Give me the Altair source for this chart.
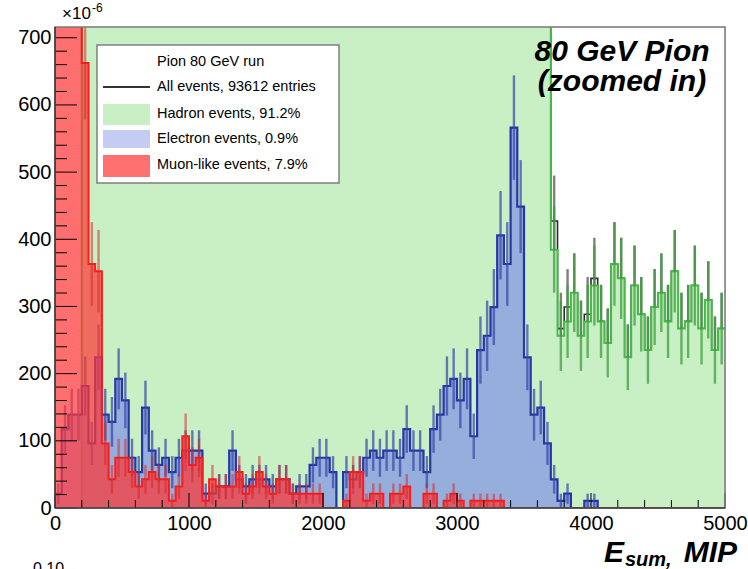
import altair as alt
import numpy as np
import pandas as pd

# ---------------------------------------------------------------------------
# Energy-sum histograms (counts per 50-MIP bin, 0 .. 5000 MIP), normalised
# to the total number of entries of the run.
# ---------------------------------------------------------------------------
N_ENTRIES = 93612
BIN_WIDTH = 50
bin_edges = list(range(0, 5001, BIN_WIDTH))

hadron_counts = [
    0, 0, 0, 0,
    120, 250, 380, 480, 560, 620,
    800, 850, 890, 930, 970, 1000, 1030, 1060, 1090, 1120,
    1140, 1170, 1200, 1220, 1250, 1270, 1300, 1320, 1350, 1370,
    1400, 1420, 1450, 1470, 1500, 1520, 1540, 1570, 1590, 1610,
    1630, 1650, 1670, 1680, 1700, 1710, 1720, 1730, 1730, 1720,
    1710, 1690, 1670, 1640, 1610, 1570, 1530, 1480, 1430, 1370,
    1310, 1240, 1170, 1100, 1020, 940, 860, 780, 700, 620,
    540, 460, 380, 300,
    36, 24, 26, 30, 24, 26, 31, 26, 23, 34,
    32, 21, 31, 27, 22, 28, 30, 26, 33, 25,
    26, 31, 25, 29, 22, 25,
]

electron_counts = [
    2, 11, 13, 13, 17, 9, 21, 13, 12, 18,
    15, 7, 5, 14, 8, 6, 7, 5, 7, 8,
    8, 8, 2, 2, 3, 3, 8, 4, 3, 4,
    4, 4, 3, 4, 4, 2, 3, 3, 6, 7,
    7, 5, 0, 5, 4, 5, 7, 8, 7, 8,
    8, 7, 11, 8, 8, 5, 11, 13, 17, 18,
    15, 18, 10, 22, 24, 28, 38, 34, 53, 42,
    21, 13, 14, 9, 4, 1, 2, 0, 0, 1,
    1, 0, 0, 0, 0, 0, 0, 0, 0, 0,
    0, 0, 0, 0, 0, 0, 0, 0, 0, 0,
]

muon_counts = [
    1450, 3300, 1800, 550, 62, 34, 33, 9, 4, 7,
    7, 5, 3, 4, 5, 4, 4, 1, 3, 10,
    6, 7, 1, 4, 3, 3, 3, 5, 2, 3,
    5, 3, 2, 4, 4, 2, 2, 2, 2, 2,
    0, 0, 0, 1, 5, 5, 1, 2, 2, 0,
    2, 2, 3, 0, 0, 2, 2, 0, 1, 2,
    1, 0, 1, 1, 1, 1, 1, 0, 0, 0,
    0, 0, 0, 0, 0, 0, 0, 0, 0, 0,
    0, 0, 0, 0, 0, 0, 0, 0, 0, 0,
    0, 0, 0, 0, 0, 0, 0, 0, 0, 0,
]

all_counts = [h + e + m for h, e, m in zip(hadron_counts, electron_counts, muon_counts)]

x_major = [0, 1000, 2000, 3000, 4000, 5000]
x_minor = [v for v in range(0, 5001, 200) if v % 1000]
y_major = [0, 100, 200, 300, 400, 500, 600, 700]
y_minor = [v for v in range(0, 716, 20) if v % 100]

legend_header = "Pion 80 GeV run"
legend_labels = [
    "All events, 93612 entries",
    "Hadron events, 91.2%",
    "Electron events, 0.9%",
    "Muon-like events, 7.9%",
]

# ---------------------------------------------------------------------------
W, H = 670, 481
Y_MAX = 716
FONT = "Liberation Sans"

HADRON_FILL = "#c9efc5"
ELECTRON_FILL = "#7f93e4"
MUON_FILL = "#ff3838"


def per_entry(c):
    return c / N_ENTRIES * 1e6


def step_frame(counts):
    ys = [per_entry(c) for c in counts] + [per_entry(counts[-1])]
    return pd.DataFrame({"x": bin_edges, "y": ys})


def err_frame(counts):
    rows = []
    for k, c in enumerate(counts):
        if c > 0:
            v, e = per_entry(c), per_entry(np.sqrt(c))
            rows.append({"x": bin_edges[k] + BIN_WIDTH / 2, "lo": v - e, "hi": v + e})
    return pd.DataFrame(rows)


xscale = alt.Scale(domain=[0, 5000], nice=False, zero=False)
yscale = alt.Scale(domain=[0, Y_MAX], nice=False, zero=False)
xaxis = alt.Axis(values=x_major, format="d", labelFont=FONT, labelFontSize=20,
                 labelColor="black", labelPadding=5, labelFlush=False,
                 labelOverlap=False, ticks=False, domain=False, grid=False, title=None)
yaxis = alt.Axis(values=y_major, format="d", labelFont=FONT, labelFontSize=20,
                 labelColor="black", labelPadding=4, labelFlush=False,
                 labelOverlap=False, ticks=False, domain=False, grid=False, title=None)


def X(f):
    return alt.X(f"{f}:Q", scale=xscale, axis=xaxis)


def Y(f):
    return alt.Y(f"{f}:Q", scale=yscale, axis=yaxis)


def hist_layers(counts, fill, fill_opacity, line_color, line_width, err_color, err_opacity):
    layers = []
    sf = step_frame(counts)
    if fill is not None:
        layers.append(alt.Chart(sf).mark_area(interpolate="step-after", clip=True,
                                              color=fill, opacity=fill_opacity)
                      .encode(x=X("x"), y=Y("y")))
    layers.append(alt.Chart(sf).mark_line(interpolate="step-after", clip=True,
                                          color=line_color, strokeWidth=line_width)
                  .encode(x=X("x"), y=Y("y")))
    layers.append(alt.Chart(err_frame(counts)).mark_rule(clip=True, color=err_color,
                                                         strokeWidth=2.4, opacity=err_opacity)
                  .encode(x=X("x"), y=Y("lo"), y2="hi"))
    return layers


layers = []
layers += hist_layers(all_counts, None, 0, "#2b2b2b", 1.6, "#555555", 0.75)
layers += hist_layers(hadron_counts, HADRON_FILL, 1.0, "#46bb46", 2.0, "#3f9f3f", 0.75)
layers += hist_layers(electron_counts, ELECTRON_FILL, 0.7, "#2536a6", 2.2, "#3445a8", 0.7)
layers += hist_layers(muon_counts, MUON_FILL, 0.72, "#ff1a1a", 2.0, "#d42a2a", 0.55)

# inward ticks on the left and bottom axes
layers.append(alt.Chart(pd.DataFrame({"t": y_major})).mark_rule(color="black", strokeWidth=1)
              .encode(y=Y("t"), x=alt.value(0), x2=alt.value(22)))
layers.append(alt.Chart(pd.DataFrame({"t": y_minor})).mark_rule(color="black", strokeWidth=1)
              .encode(y=Y("t"), x=alt.value(0), x2=alt.value(12)))
layers.append(alt.Chart(pd.DataFrame({"t": x_major})).mark_rule(color="black", strokeWidth=1)
              .encode(x=X("t"), y=alt.value(H), y2=alt.value(H - 15)))
layers.append(alt.Chart(pd.DataFrame({"t": x_minor})).mark_rule(color="black", strokeWidth=1)
              .encode(x=X("t"), y=alt.value(H), y2=alt.value(H - 8)))

one = pd.DataFrame({"k": [0]})

# frame
layers.append(alt.Chart(one).mark_rect(fillOpacity=0, stroke="#7a7a7a", strokeWidth=1.5)
              .encode(x=alt.value(0), x2=alt.value(W), y=alt.value(0), y2=alt.value(H)))
layers.append(alt.Chart(one).mark_rule(color="#222222", strokeWidth=1.2)
              .encode(x=alt.value(0), x2=alt.value(0), y=alt.value(0), y2=alt.value(H)))
layers.append(alt.Chart(one).mark_rule(color="#222222", strokeWidth=1.2)
              .encode(x=alt.value(0), x2=alt.value(W), y=alt.value(H), y2=alt.value(H)))

# legend box
layers.append(alt.Chart(one).mark_rect(fill="white", stroke="#7f7f7f", strokeWidth=1.5)
              .encode(x=alt.value(42), x2=alt.value(284), y=alt.value(18), y2=alt.value(156)))


def text_at(txt, x, y, size, align="left", baseline="middle", weight="normal",
            style="normal", color="black"):
    return (alt.Chart(pd.DataFrame({"t": [txt]}))
            .mark_text(font=FONT, fontSize=size, align=align, baseline=baseline,
                       fontWeight=weight, fontStyle=style, color=color)
            .encode(x=alt.value(x), y=alt.value(y), text="t:N"))


row_y = [60, 87, 112, 138]
layers.append(text_at(legend_header, 102, 35, 14.5))
for lab, yy in zip(legend_labels, row_y):
    layers.append(text_at(lab, 102, yy, 14.5))

layers.append(alt.Chart(one).mark_rule(color="#333333", strokeWidth=2)
              .encode(x=alt.value(48), x2=alt.value(95), y=alt.value(60), y2=alt.value(60)))
layers.append(alt.Chart(one).mark_rect(fill=HADRON_FILL)
              .encode(x=alt.value(48), x2=alt.value(95), y=alt.value(77), y2=alt.value(98)))
layers.append(alt.Chart(one).mark_rect(fill="#c4ccf4")
              .encode(x=alt.value(48), x2=alt.value(95), y=alt.value(103), y2=alt.value(121)))
layers.append(alt.Chart(one).mark_rect(fill="#ff7070")
              .encode(x=alt.value(48), x2=alt.value(95), y=alt.value(128), y2=alt.value(150)))

# exponent of the y axis
layers.append(text_at("\u00d710", 7, -8.5, 17, baseline="alphabetic"))
layers.append(text_at("-6", 37, -15, 12, baseline="alphabetic"))

# run label
layers.append(text_at("80 GeV Pion", 567, 33.5, 30, align="center", baseline="alphabetic",
                      weight="bold", style="italic"))
layers.append(text_at("(zoomed in)", 567, 64, 30, align="center", baseline="alphabetic",
                      weight="bold", style="italic"))

# x axis title: E_sum, MIP
layers.append(text_at("E", 549, 535, 30, baseline="alphabetic", weight="bold", style="italic"))
layers.append(text_at("sum,", 570, 539, 20, baseline="alphabetic", weight="bold", style="italic"))
layers.append(text_at("MIP", 682, 535, 30, align="right", baseline="alphabetic",
                      weight="bold", style="italic"))

# next panel's axis label peeking in at the bottom
layers.append(text_at("0.10", -22, 534, 16, baseline="top"))

chart = (
    alt.layer(*layers)
    .properties(width=W, height=H,
                autosize=alt.AutoSizeParams(type="none"),
                padding={"left": 55, "top": 27, "right": 23, "bottom": 61})
    .configure_view(stroke=None)
    .configure(background="white")
)

chart.save("out.html", embed_options={"renderer": "svg", "actions": False})
